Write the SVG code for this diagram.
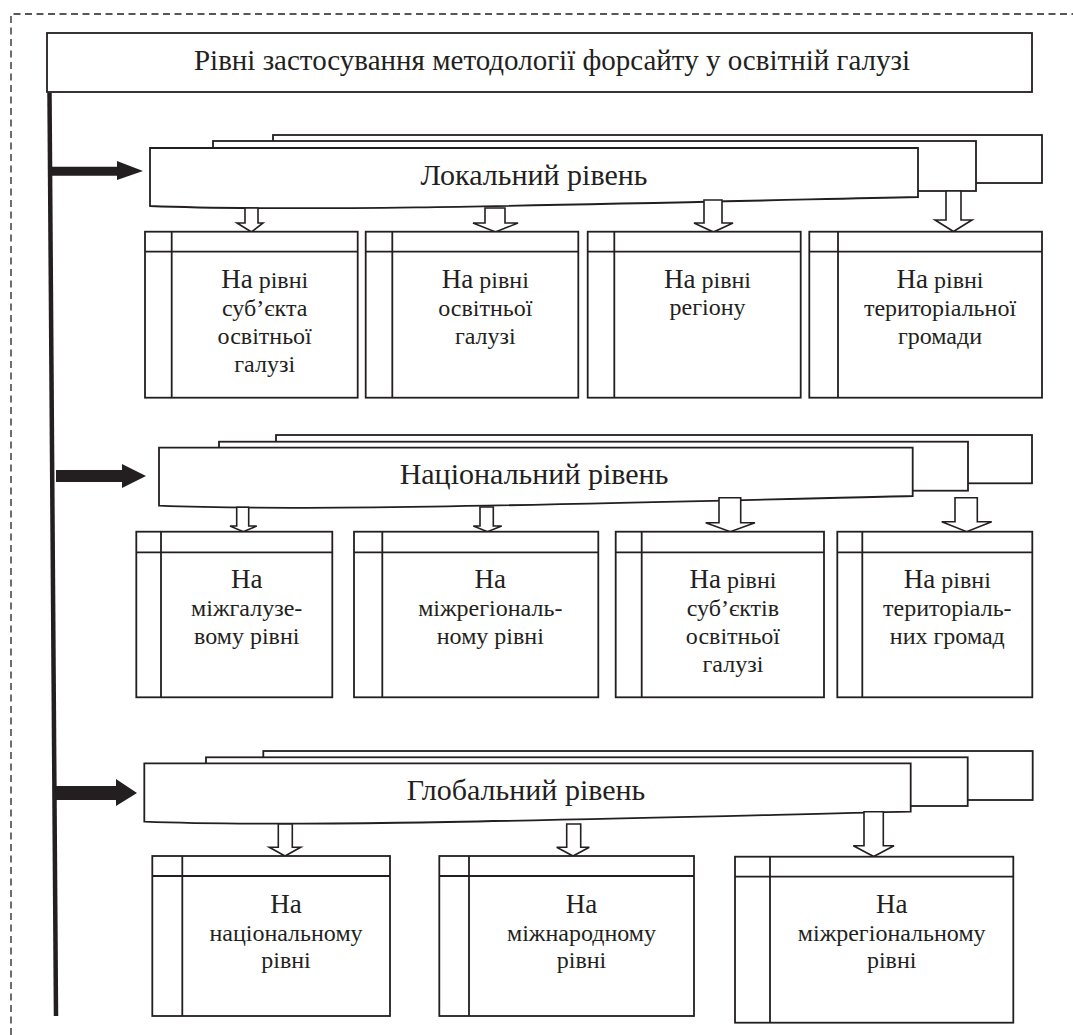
<svg xmlns="http://www.w3.org/2000/svg" width="1073" height="1035" viewBox="0 0 1073 1035" font-family="'Liberation Serif', 'Times New Roman', serif">
<style>
.bx{fill:#fff;stroke:#231f20;stroke-width:1.8}
.ln{fill:none;stroke:#231f20;stroke-width:1.8}
.ha{fill:#fff;stroke:#231f20;stroke-width:1.6}
.ba{fill:#231f20;stroke:none}
.dash{fill:none;stroke:#231f20;stroke-width:1.3;stroke-dasharray:7 4.5}
text{font-family:'Liberation Serif','Times New Roman',serif;fill:#231f20;text-anchor:middle}
.t1{font-size:29px}
.t2{font-size:30px}
.t3{font-size:24px}
.na{font-size:27px}
</style>
<rect width="1073" height="1035" fill="#fff"/>
<g id="frame">
<path class="dash" d="M11,1035 L11,14 L1073,14"/>
</g>
<g id="title">
<rect class="bx" x="47" y="33" width="985" height="59"/>
<text class="t1" x="552" y="70">Рівні застосування методології форсайту у освітній галузі</text>
</g>
<g id="connectors">
<path d="M49.5,93 L56,1016" stroke="#231f20" stroke-width="4.5" fill="none"/>
<polygon class="ba" points="50,166.7 117,166.7 117,161 143,171 117,180 117,175.7 50,175.7"/>
<polygon class="ba" points="56,470 122,470 122,464 146,476 122,488 122,482 56,482"/>
<polygon class="ba" points="55,786 116,786 116,779 137,793 116,806 116,800 55,800"/>
</g>
<g id="local-level">
<rect class="bx" x="273" y="135" width="769" height="48"/>
<rect class="bx" x="213" y="141" width="763" height="50"/>
<path class="bx" d="M918,197 L918,148 L150,148 L150,206 C300,212 560,205 918,197 Z"/>
<text class="t2" x="534" y="184.6">Локальний рівень</text>
</g>
<g id="national-level">
<rect class="bx" x="276" y="435" width="756" height="48.3"/>
<rect class="bx" x="219" y="441.7" width="749" height="49"/>
<path class="bx" d="M912.7,496 L912.7,447.7 L159,447.7 L159,505.7 C300,511.5 560,504.5 912.7,496 Z"/>
<text class="t2" x="534" y="484.3">Національний рівень</text>
</g>
<g id="global-level">
<rect class="bx" x="263.3" y="751" width="769.4" height="49"/>
<rect class="bx" x="206" y="757.3" width="761.7" height="48.7"/>
<path class="bx" d="M910.7,811.7 L910.7,763.3 L144.3,763.3 L144.3,821.7 C290,827.5 550,820 910.7,811.7 Z"/>
<text class="t2" x="526" y="800">Глобальний рівень</text>
</g>
<g id="level-arrows">
<polygon class="ha" points="245,208 245,223 237,223 251.5,232 263,223 258,223 258,208"/>
<polygon class="ha" points="485,208 485,223 473,223 495.5,232 518,223 505,223 505,208"/>
<polygon class="ha" points="704,200 704,223 694,223 713.5,232 733,223 722,223 722,200"/>
<polygon class="ha" points="946,191 946,220 935,220 953.5,231.5 972,220 961,220 961,191"/>
<polygon class="ha" points="236.7,507.3 236.7,526 230,526 243.3,531.7 256.7,526 248.7,526 248.7,507.3"/>
<polygon class="ha" points="480,507 480,526 473.3,526 487.5,531.7 501.7,526 493.3,526 493.3,507"/>
<polygon class="ha" points="719,497.7 719,522.7 705.7,522.7 730.3,531.7 755,522.7 740.7,522.7 740.7,497.7"/>
<polygon class="ha" points="955,497.7 955,521.7 941.7,521.7 966.7,531.7 991.7,521.7 977.3,521.7 977.3,497.7"/>
<polygon class="ha" points="278.3,824 278.3,847.3 269.3,847.3 285,856 300.7,847.3 292.3,847.3 292.3,824"/>
<polygon class="ha" points="566.7,824 566.7,847.3 556.7,847.3 573,856 589.3,847.3 580.7,847.3 580.7,824"/>
<polygon class="ha" points="864,811.7 864,845.7 853.3,845.7 873.7,856.5 894,845.7 883.3,845.7 883.3,811.7"/>
</g>
<g id="local-subject">
<rect class="bx" x="145" y="231.7" width="212.7" height="166"/>
<path class="ln" d="M145,251.7 H357.7 M171.7,231.7 V397.7"/>
<text class="t3" x="264.7" y="288"><tspan class="na">На</tspan> рівні</text>
<text class="t3" x="264.7" y="316">суб’єкта</text>
<text class="t3" x="264.7" y="344">освітньої</text>
<text class="t3" x="264.7" y="372">галузі</text>
</g>
<g id="local-branch">
<rect class="bx" x="365.7" y="231.7" width="212.6" height="166"/>
<path class="ln" d="M365.7,251.7 H578.3 M392.3,231.7 V397.7"/>
<text class="t3" x="485.3" y="288"><tspan class="na">На</tspan> рівні</text>
<text class="t3" x="485.3" y="316">освітньої</text>
<text class="t3" x="485.3" y="344">галузі</text>
</g>
<g id="local-region">
<rect class="bx" x="587.7" y="231.7" width="213" height="166"/>
<path class="ln" d="M587.7,251.7 H800.7 M614.3,231.7 V397.7"/>
<text class="t3" x="707.5" y="288"><tspan class="na">На</tspan> рівні</text>
<text class="t3" x="707.5" y="315">регіону</text>
</g>
<g id="local-community">
<rect class="bx" x="809.3" y="231.7" width="232.7" height="166"/>
<path class="ln" d="M809.3,251.7 H1042 M838,231.7 V397.7"/>
<text class="t3" x="940" y="288"><tspan class="na">На</tspan> рівні</text>
<text class="t3" x="940" y="316">територіальної</text>
<text class="t3" x="940" y="344">громади</text>
</g>
<g id="national-intersectoral">
<rect class="bx" x="136.3" y="531.7" width="196" height="165.6"/>
<path class="ln" d="M136.3,552.3 H332.3 M161,531.7 V697.3"/>
<text class="na" x="246.7" y="588">На</text>
<text class="t3" x="246.7" y="616">міжгалузе-</text>
<text class="t3" x="246.7" y="644">вому рівні</text>
</g>
<g id="national-interregional">
<rect class="bx" x="354" y="531.7" width="244.3" height="165.6"/>
<path class="ln" d="M354,552.3 H598.3 M382.3,531.7 V697.3"/>
<text class="na" x="490.3" y="588">На</text>
<text class="t3" x="490.3" y="616">міжрегіональ-</text>
<text class="t3" x="490.3" y="644">ному рівні</text>
</g>
<g id="national-subjects">
<rect class="bx" x="615.7" y="531.7" width="208.3" height="165.6"/>
<path class="ln" d="M615.7,552.3 H824 M641.7,531.7 V697.3"/>
<text class="t3" x="732.9" y="588"><tspan class="na">На</tspan> рівні</text>
<text class="t3" x="732.9" y="616">суб’єктів</text>
<text class="t3" x="732.9" y="644">освітньої</text>
<text class="t3" x="732.9" y="672">галузі</text>
</g>
<g id="national-communities">
<rect class="bx" x="837.3" y="531.7" width="195" height="165.6"/>
<path class="ln" d="M837.3,552.3 H1032.3 M862.3,531.7 V697.3"/>
<text class="t3" x="947.3" y="588"><tspan class="na">На</tspan> рівні</text>
<text class="t3" x="947.3" y="616">територіаль-</text>
<text class="t3" x="947.3" y="644">них громад</text>
</g>
<g id="global-national">
<rect class="bx" x="152.3" y="856" width="237.7" height="160"/>
<path class="ln" d="M152.3,876 H390 M182.3,856 V1016"/>
<text class="na" x="286" y="912.5">На</text>
<text class="t3" x="286" y="940.5">національному</text>
<text class="t3" x="286" y="968">рівні</text>
</g>
<g id="global-international">
<rect class="bx" x="439.3" y="856" width="254.7" height="160"/>
<path class="ln" d="M439.3,876 H694 M469,856 V1016"/>
<text class="na" x="581.5" y="912.5">На</text>
<text class="t3" x="581.5" y="940.5">міжнародному</text>
<text class="t3" x="581.5" y="968">рівні</text>
</g>
<g id="global-interregional">
<rect class="bx" x="735" y="856.7" width="278.3" height="166"/>
<path class="ln" d="M735,876.7 H1013.3 M770,856.7 V1022.7"/>
<text class="na" x="891.7" y="912.5">На</text>
<text class="t3" x="891.7" y="940.5">міжрегіональному</text>
<text class="t3" x="891.7" y="968">рівні</text>
</g>
</svg>
